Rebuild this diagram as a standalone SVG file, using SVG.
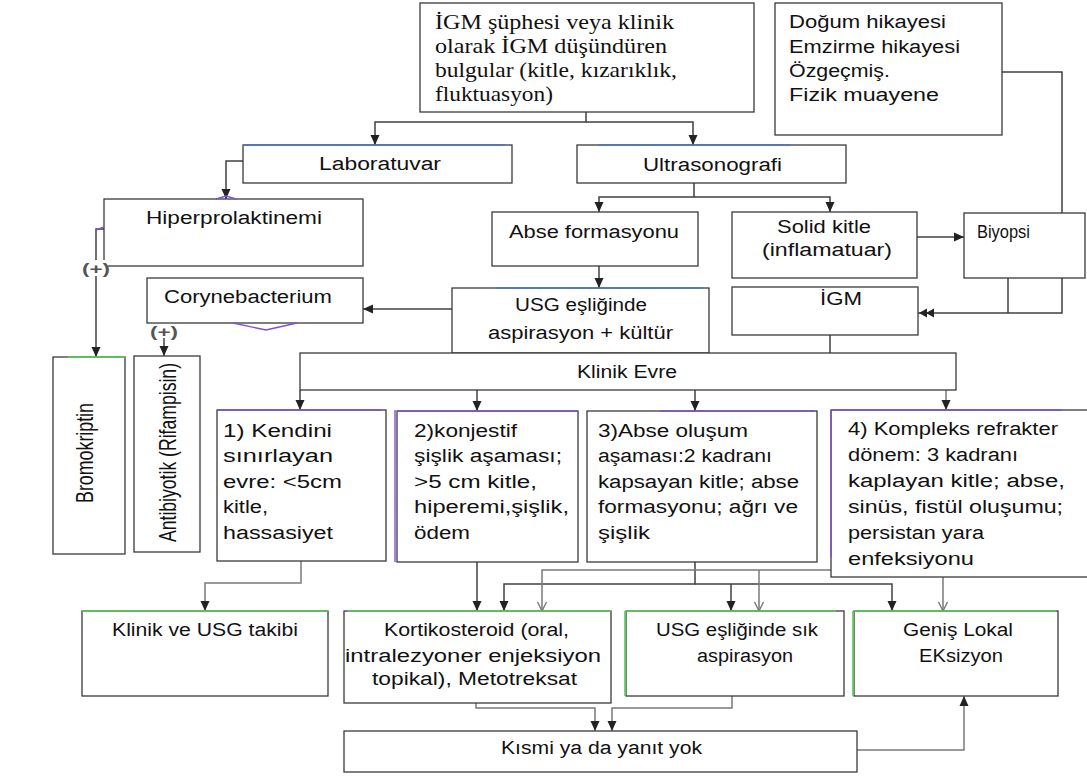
<svg xmlns="http://www.w3.org/2000/svg" width="1087" height="776" viewBox="0 0 1087 776">
<style>
.box{fill:#fff;stroke:#3a3a3a;stroke-width:1.3}
.t{font-family:"Liberation Sans",Arial,sans-serif;font-size:18px;fill:#111}
.s{font-family:"Liberation Serif","Times New Roman",serif;font-size:21.5px;fill:#111}
.c{fill:none;stroke:#404040;stroke-width:1.5}
.cg{fill:none;stroke:#7a7a7a;stroke-width:1.5}
.blue{stroke:#4a78c8;stroke-width:1.6}
.purple{fill:none;stroke:#7b52d8;stroke-width:1.4}
.green{stroke:#58d058;stroke-width:1.6}
.lbl{font-family:"Liberation Sans",Arial,sans-serif;font-size:15px;font-weight:bold;fill:#555}
</style>
<defs>
<marker id="ar" markerUnits="userSpaceOnUse" markerWidth="10" markerHeight="10" refX="10" refY="5" orient="auto">
<path d="M0,0.5 L10,5 L0,9.5 z" fill="#222"/>
</marker>
<marker id="ao" markerUnits="userSpaceOnUse" markerWidth="10" markerHeight="10" refX="9.5" refY="5" orient="auto">
<path d="M0.5,0.5 L9.5,5 L0.5,9.5" fill="none" stroke="#7a7a7a" stroke-width="1.4"/>
</marker>
<marker id="ad" markerUnits="userSpaceOnUse" markerWidth="16" markerHeight="10" refX="16" refY="5" orient="auto">
<path d="M0,0.5 L8,5 L0,9.5 z M7,0.5 L15,5 L7,9.5 z" fill="#222"/>
</marker>
</defs>

<g id="connectors">
<path class="c" d="M586,112 V122 H375 V145" marker-end="url(#ar)"/>
<path class="c" d="M586,122 H693 V145" marker-end="url(#ar)"/>
<path class="c" d="M243,161 H226 V199" marker-end="url(#ar)"/>
<path class="c" d="M104,229 H96 V357" marker-end="url(#ar)"/>
<path class="c" d="M452,309 H363" marker-end="url(#ar)"/>
<path class="c" d="M164,338 V356" marker-end="url(#ar)"/>
<path class="c" d="M694,183 V197 H599 V212" marker-end="url(#ar)"/>
<path class="c" d="M694,197 H830 V212" marker-end="url(#ar)"/>
<path class="c" d="M599,266 V288" marker-end="url(#ar)"/>
<path class="c" d="M917,237 H964" marker-end="url(#ar)"/>
<path class="c" d="M1002,72 H1062 V313 H918" marker-end="url(#ad)"/>
<path class="c" d="M1008,278 V313"/>
<path class="c" d="M830,335 V353"/>
<path class="c" d="M300,390 V410" marker-end="url(#ar)"/>
<path class="c" d="M477,390 V411" marker-end="url(#ar)"/>
<path class="c" d="M695,390 V411" marker-end="url(#ar)"/>
<path class="cg" d="M946,390 V410" marker-end="url(#ar)"/>
<path class="cg" d="M301,561 V583 H205 V611" marker-end="url(#ar)"/>
<path class="c" d="M477,562 V611" marker-end="url(#ar)"/>
<path class="c" d="M695,562 V584 H504 V611" marker-end="url(#ar)"/>
<path class="c" d="M695,584 H892 V611" marker-end="url(#ar)"/>
<path class="c" d="M731,584 V611" marker-end="url(#ar)"/>
<path class="cg" d="M831,570 H542 V611" marker-end="url(#ao)"/>
<path class="cg" d="M759,570 V611" marker-end="url(#ao)"/>
<path class="cg" d="M943,577 V611" marker-end="url(#ao)"/>
<path class="cg" d="M476,703 V708 H595 V731" marker-end="url(#ar)"/>
<path class="cg" d="M732,696 V708 H612 V731" marker-end="url(#ar)"/>
<path class="cg" d="M857,750 H964 V696" marker-end="url(#ar)"/>
</g>

<g id="n-top">
<rect class="box" x="420" y="3" width="334" height="109"/>
<text class="s" x="435" y="29" textLength="239" lengthAdjust="spacingAndGlyphs">İGM şüphesi veya klinik</text>
<text class="s" x="435" y="53" textLength="232" lengthAdjust="spacingAndGlyphs">olarak İGM düşündüren</text>
<text class="s" x="435" y="77" textLength="242" lengthAdjust="spacingAndGlyphs">bulgular (kitle, kızarıklık,</text>
<text class="s" x="435" y="101" textLength="118" lengthAdjust="spacingAndGlyphs">fluktuasyon)</text>
</g>

<g id="n-dogum">
<rect class="box" x="775" y="3" width="227" height="132"/>
<text class="t" x="789" y="28" textLength="157" lengthAdjust="spacingAndGlyphs">Doğum hikayesi</text>
<text class="t" x="789" y="53" textLength="171" lengthAdjust="spacingAndGlyphs">Emzirme hikayesi</text>
<text class="t" x="789" y="77" textLength="101" lengthAdjust="spacingAndGlyphs">Özgeçmiş.</text>
<text class="t" x="789" y="101" textLength="150" lengthAdjust="spacingAndGlyphs">Fizik muayene</text>
</g>

<g id="n-lab">
<rect class="box" x="243" y="145" width="269" height="38"/>
<line class="blue" x1="243" y1="145" x2="505" y2="145"/>
<text class="t" x="319" y="170" textLength="122" lengthAdjust="spacingAndGlyphs">Laboratuvar</text>
</g>

<g id="n-usg">
<rect class="box" x="577" y="145" width="269" height="38"/>
<line class="blue" x1="598" y1="145" x2="790" y2="145"/>
<text class="t" x="643" y="171" textLength="139" lengthAdjust="spacingAndGlyphs">Ultrasonografi</text>
</g>

<g id="n-hiper">
<rect class="box" x="104" y="199" width="259" height="67"/>
<text class="t" x="146" y="224" textLength="176" lengthAdjust="spacingAndGlyphs">Hiperprolaktinemi</text>
<polyline class="purple" points="216,199 226,196 236,199"/>
<polyline class="purple" points="96,230 104,227"/>
</g>

<g id="n-coryne">
<rect class="box" x="147" y="278" width="216" height="45"/>
<text class="t" x="164" y="303" textLength="168" lengthAdjust="spacingAndGlyphs">Corynebacterium</text>
<polyline class="purple" points="233,323 266,330 297,323"/>
</g>

<g id="n-abse">
<rect class="box" x="492" y="212" width="206" height="54"/>
<text class="t" x="509" y="238" textLength="170" lengthAdjust="spacingAndGlyphs">Abse formasyonu</text>
</g>

<g id="n-solid">
<rect class="box" x="732" y="212" width="185" height="66"/>
<text class="t" x="777" y="233" textLength="94" lengthAdjust="spacingAndGlyphs">Solid kitle</text>
<text class="t" x="762" y="256" textLength="130" lengthAdjust="spacingAndGlyphs">(inflamatuar)</text>
</g>

<g id="n-biyopsi">
<rect class="box" x="964" y="213" width="121" height="65"/>
<text class="t" x="977" y="238" font-size="16.5" textLength="53" lengthAdjust="spacingAndGlyphs">Biyopsi</text>
</g>

<g id="n-aspir">
<rect class="box" x="452" y="288" width="257" height="65"/>
<line class="blue" x1="497" y1="288" x2="702" y2="288"/>
<text class="t" x="515" y="311" textLength="132" lengthAdjust="spacingAndGlyphs">USG eşliğinde</text>
<text class="t" x="488" y="339" textLength="185" lengthAdjust="spacingAndGlyphs">aspirasyon + kültür</text>
</g>

<g id="n-igm">
<rect class="box" x="732" y="287" width="186" height="48"/>
<text class="t" x="820" y="305" textLength="42" lengthAdjust="spacingAndGlyphs">İGM</text>
</g>

<g id="n-evre">
<rect class="box" x="300" y="353" width="656" height="37"/>
<text class="t" x="577" y="378" textLength="100" lengthAdjust="spacingAndGlyphs">Klinik Evre</text>
</g>

<g id="n-bromo">
<rect class="box" x="53" y="357" width="72" height="197"/>
<line class="green" x1="68" y1="357" x2="125" y2="357"/>
<text class="t" transform="translate(93,503) rotate(-90) scale(1,1.3)" x="0" y="0" font-size="17" textLength="100" lengthAdjust="spacingAndGlyphs">Bromokriptin</text>
</g>

<g id="n-anti">
<rect class="box" x="134" y="356" width="66" height="196"/>
<text class="t" transform="translate(176,542) rotate(-90) scale(1,1.35)" x="0" y="0" font-size="17" textLength="179" lengthAdjust="spacingAndGlyphs">Antibiyotik (Rifampisin)</text>
</g>

<g id="labels">
<rect x="84" y="260" width="24" height="16" fill="#fff"/>
<text class="lbl" x="96" y="274" text-anchor="middle" textLength="28" lengthAdjust="spacingAndGlyphs">(+)</text>
<text class="lbl" x="164" y="337" text-anchor="middle" textLength="28" lengthAdjust="spacingAndGlyphs">(+)</text>
</g>

<g id="n-evre1">
<rect class="box" x="217" y="410" width="169" height="151"/>
<line class="purple" x1="217" y1="410" x2="382" y2="410"/>
<text class="t" x="223" y="437" textLength="109" lengthAdjust="spacingAndGlyphs">1) Kendini</text>
<text class="t" x="223" y="462" textLength="110" lengthAdjust="spacingAndGlyphs">sınırlayan</text>
<text class="t" x="223" y="488" textLength="119" lengthAdjust="spacingAndGlyphs">evre: &lt;5cm</text>
<text class="t" x="223" y="513" textLength="45" lengthAdjust="spacingAndGlyphs">kitle,</text>
<text class="t" x="223" y="539" textLength="110" lengthAdjust="spacingAndGlyphs">hassasiyet</text>
</g>

<g id="n-evre2">
<rect class="box" x="397" y="411" width="181" height="151"/>
<line class="purple" x1="395" y1="410" x2="395" y2="562"/>
<line class="purple" x1="397" y1="411" x2="578" y2="411"/>
<text class="t" x="414" y="437" textLength="103" lengthAdjust="spacingAndGlyphs">2)konjestif</text>
<text class="t" x="414" y="462" textLength="148" lengthAdjust="spacingAndGlyphs">şişlik aşaması;</text>
<text class="t" x="414" y="488" textLength="123" lengthAdjust="spacingAndGlyphs">&gt;5 cm kitle,</text>
<text class="t" x="414" y="513" textLength="155" lengthAdjust="spacingAndGlyphs">hiperemi,şişlik,</text>
<text class="t" x="414" y="539" textLength="56" lengthAdjust="spacingAndGlyphs">ödem</text>
</g>

<g id="n-evre3">
<rect class="box" x="587" y="411" width="230" height="151"/>
<line class="purple" x1="660" y1="411" x2="815" y2="411"/>
<text class="t" x="598" y="437" textLength="150" lengthAdjust="spacingAndGlyphs">3)Abse oluşum</text>
<text class="t" x="598" y="462" textLength="174" lengthAdjust="spacingAndGlyphs">aşaması:2 kadranı</text>
<text class="t" x="598" y="488" textLength="201" lengthAdjust="spacingAndGlyphs">kapsayan kitle; abse</text>
<text class="t" x="598" y="513" textLength="200" lengthAdjust="spacingAndGlyphs">formasyonu; ağrı ve</text>
<text class="t" x="598" y="539" textLength="52" lengthAdjust="spacingAndGlyphs">şişlik</text>
</g>

<g id="n-evre4">
<rect class="box" x="831" y="410" width="260" height="167"/>
<line class="purple" x1="831" y1="410" x2="831" y2="557"/>
<line class="purple" x1="831" y1="410" x2="1062" y2="410"/>
<text class="t" x="848" y="435" textLength="210" lengthAdjust="spacingAndGlyphs">4) Kompleks refrakter</text>
<text class="t" x="848" y="461" textLength="170" lengthAdjust="spacingAndGlyphs">dönem: 3 kadranı</text>
<text class="t" x="848" y="487" textLength="217" lengthAdjust="spacingAndGlyphs">kaplayan kitle; abse,</text>
<text class="t" x="848" y="513" textLength="215" lengthAdjust="spacingAndGlyphs">sinüs, fistül oluşumu;</text>
<text class="t" x="848" y="539" textLength="136" lengthAdjust="spacingAndGlyphs">persistan yara</text>
<text class="t" x="848" y="565" textLength="126" lengthAdjust="spacingAndGlyphs">enfeksiyonu</text>
</g>

<g id="n-takip">
<rect class="box" x="82" y="611" width="246" height="85"/>
<line class="green" x1="82" y1="611" x2="328" y2="611"/>
<text class="t" x="112" y="636" textLength="186" lengthAdjust="spacingAndGlyphs">Klinik ve USG takibi</text>
</g>

<g id="n-korti">
<rect class="box" x="344" y="611" width="267" height="92"/>
<line class="green" x1="348" y1="611" x2="611" y2="611"/>
<text class="t" x="384" y="636" textLength="185" lengthAdjust="spacingAndGlyphs">Kortikosteroid (oral,</text>
<text class="t" x="345" y="662" textLength="256" lengthAdjust="spacingAndGlyphs">intralezyoner enjeksiyon</text>
<text class="t" x="372" y="685" textLength="205" lengthAdjust="spacingAndGlyphs">topikal), Metotreksat</text>
</g>

<g id="n-aspir2">
<rect class="box" x="626" y="611" width="218" height="85"/>
<line class="green" x1="625" y1="611" x2="625" y2="696"/>
<line class="green" x1="626" y1="611" x2="836" y2="611"/>
<text class="t" x="656" y="636" textLength="162" lengthAdjust="spacingAndGlyphs">USG eşliğinde sık</text>
<text class="t" x="697" y="662" textLength="96" lengthAdjust="spacingAndGlyphs">aspirasyon</text>
</g>

<g id="n-eksizyon">
<rect class="box" x="854" y="611" width="204" height="85"/>
<line class="green" x1="853" y1="611" x2="853" y2="696"/>
<line class="green" x1="854" y1="611" x2="1056" y2="611"/>
<text class="t" x="903" y="636" textLength="110" lengthAdjust="spacingAndGlyphs">Geniş Lokal</text>
<text class="t" x="919" y="662" textLength="84" lengthAdjust="spacingAndGlyphs">EKsizyon</text>
</g>

<g id="n-kismi">
<rect class="box" x="344" y="731" width="513" height="41"/>
<text class="t" x="501" y="754" textLength="201" lengthAdjust="spacingAndGlyphs">Kısmi ya da yanıt yok</text>
</g>
</svg>
